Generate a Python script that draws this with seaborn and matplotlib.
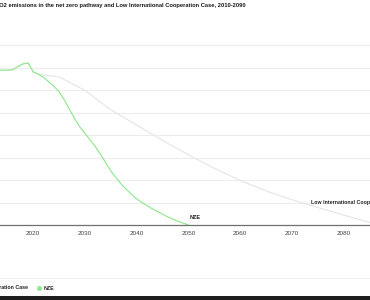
import pandas as pd
import seaborn as sns
import matplotlib.pyplot as plt
from matplotlib.lines import Line2D
from matplotlib.patches import Rectangle

# ---- data (Gt CO2) ----
lic_years = [2010, 2011, 2012, 2013, 2014, 2015, 2016, 2017, 2018, 2019, 2020, 2021, 2022,
             2025, 2030, 2035, 2040, 2045, 2050, 2055, 2060, 2065, 2070, 2075, 2080, 2085, 2090]
lic_values = [33.0, 33.8, 34.1, 34.3, 34.4, 34.4, 34.5, 35.2, 35.8, 36.0, 34.0, 33.6, 33.3,
              32.9, 29.9, 25.6, 22.2, 18.8, 15.6, 12.6, 9.9, 7.6, 5.6, 3.9, 2.2, 0.6, 0.0]

nze_years = [2010, 2011, 2012, 2013, 2014, 2015, 2016, 2017, 2018, 2019, 2020,
             2021, 2022, 2023, 2024, 2025, 2026, 2027, 2028, 2029, 2030,
             2031, 2032, 2033, 2034, 2035, 2036, 2037, 2038, 2039, 2040,
             2041, 2042, 2043, 2044, 2045, 2046, 2047, 2048, 2049, 2050]
nze_values = [33.0, 33.8, 34.1, 34.3, 34.4, 34.4, 34.5, 35.2, 35.8, 36.0, 34.0,
              33.5, 32.8, 31.8, 30.8, 29.6, 27.8, 25.7, 23.6, 21.8, 20.3,
              18.9, 17.4, 15.7, 13.8, 12.0, 10.5, 9.1, 7.9, 6.8, 5.8,
              5.0, 4.3, 3.6, 3.0, 2.4, 1.8, 1.3, 0.8, 0.4, 0.0]

series_names = ["Low International Cooperation Case", "NZE"]
x_ticks = [2020, 2030, 2040, 2050, 2060, 2070, 2080]
y_grid = [0, 5, 10, 15, 20, 25, 30, 35, 40]
title = "CO2 emissions in the net zero pathway and Low International Cooperation Case, 2010-2090"

df = pd.concat([
    pd.DataFrame({"year": lic_years, "value": lic_values, "scenario": series_names[0]}),
    pd.DataFrame({"year": nze_years, "value": nze_values, "scenario": series_names[1]}),
])

sns.set_theme(style="white")
plt.rcParams['font.family'] = ['Liberation Sans', 'DejaVu Sans']

W, H = 370, 300
fig = plt.figure(figsize=(3.7, 3.0), dpi=100)
ax = fig.add_axes([0, 75 / H, 1, 180 / H])

palette = {series_names[0]: "#e6e6e6", series_names[1]: "#90e890"}
sns.lineplot(data=df, x="year", y="value", hue="scenario", palette=palette,
             ax=ax, legend=False, linewidth=0.85, hue_order=series_names)

ax.set_xlim(2013.56, 2085.1)
ax.set_ylim(0, 40)
ax.set_yticks(y_grid)
ax.set_yticklabels([])
ax.tick_params(axis="y", length=0)
ax.grid(axis="y", color="#ededed", linewidth=0.8)
ax.grid(axis="x", visible=False)
for s in ["top", "left", "right"]:
    ax.spines[s].set_visible(False)
ax.spines["bottom"].set_color("#707070")
ax.spines["bottom"].set_linewidth(0.9)
ax.set_xticks(x_ticks)
ax.set_xticklabels([str(t) for t in x_ticks])
ax.tick_params(axis="x", direction="out", length=2.5, width=0.6, color="#707070",
               labelsize=4.6, labelcolor="#444444", pad=2)
ax.set_xlabel("")
ax.set_ylabel("")

# line end labels
ax.text(2050.3, 1.6, "NZE", fontsize=4.0, weight="bold", color="#222222",
        ha="left", va="center")
ax.text(2073.6, 5.1, "Low International Cooperation Case", fontsize=3.8, weight="bold",
        color="#222222", ha="left", va="center",
        bbox=dict(facecolor="white", edgecolor="none", pad=0.6))

# title
fig.text(-5 / W, 1 - 6 / H, title, ha="left", va="center", fontsize=4.15,
         weight="bold", color="#1a1a1a")

# separator and legend
fig.add_artist(Line2D([0, 1], [22 / H, 22 / H], color="#f0f0f0", linewidth=0.8))
fig.text(28 / W, 12 / H, series_names[0], ha="right", va="center", fontsize=3.8,
         weight="bold", color="#222222")
fig.add_artist(Line2D([39 / W], [12 / H], marker="o", markersize=2.6,
                      color=palette[series_names[1]], linestyle="none"))
fig.text(44 / W, 12 / H, series_names[1], ha="left", va="center", fontsize=3.8,
         weight="bold", color="#222222")

# dark strip at the bottom
fig.add_artist(Rectangle((0, 0), 1, 4 / H, transform=fig.transFigure,
                         facecolor="#1e1e1e", edgecolor="none"))

fig.savefig("out.png", dpi=100)
